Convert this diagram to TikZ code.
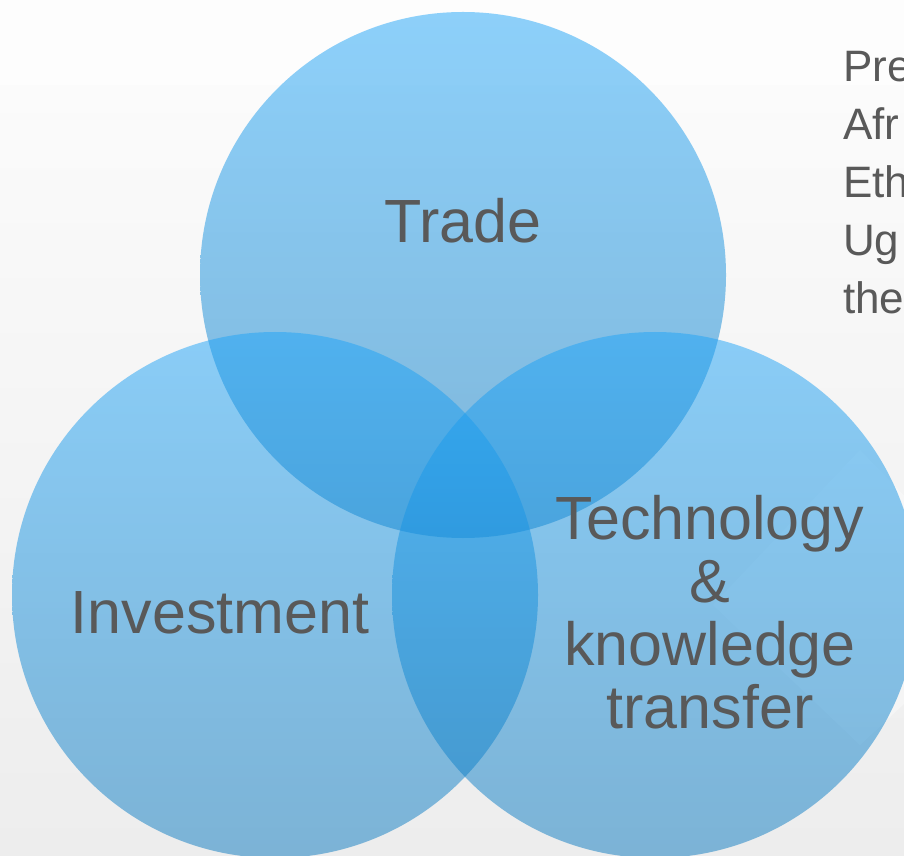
\documentclass[tikz,border=0pt]{standalone}
\usepackage{fontspec}
\setmainfont{Liberation Sans}
\begin{document}
\begin{tikzpicture}[x=1pt,y=1pt]
\definecolor{bgtop}{RGB}{251,251,251}
\definecolor{bgbot}{RGB}{237,237,237}
\definecolor{bgband}{RGB}{253,253,253}
\definecolor{vennA}{RGB}{30,164,248}
\definecolor{vennB}{RGB}{12,122,192}
\definecolor{ink}{RGB}{89,89,89}
\tikzset{
  venn/.style={top color=vennA, bottom color=vennB, fill opacity=0.5},
  lbl/.style={inner sep=0pt, text=ink, font=\fontsize{61}{63}\selectfont, align=center},
  side/.style={inner sep=0pt, text=ink, font=\fontsize{44}{58}\selectfont, align=left}
}
\useasboundingbox (0,0) rectangle (904,855);
\clip (0,0) rectangle (904,855);
% backdrop
\shade[top color=bgtop, bottom color=bgbot] (0,0) rectangle (904,770);
\fill[bgband] (0,770) rectangle (904,855);
\fill[white, opacity=0.35] (713,250) -- (860,405) -- (1010,250) -- (860,110) -- cycle;
% three overlapping circles
\coordinate (ctop) at (463,580);
\coordinate (cleft) at (275,260);
\coordinate (cright) at (655,260);
\shade[venn] (ctop) circle (263);
\shade[venn] (cleft) circle (263);
\shade[venn] (cright) circle (263);
% labels (base anchor sits on the last line)
\node[lbl, anchor=base] (trade) at (463,612) {Trade};
\node[lbl, anchor=base] (invest) at (220,222) {Investment};
\node[lbl, anchor=base] (tech) at (710,127) {Technology\\\&\\knowledge\\transfer};
\node[side, anchor=base west] (note) at (843,541) {Pre\\Afr\\Eth\\Ug\\the};
\end{tikzpicture}
\end{document}
